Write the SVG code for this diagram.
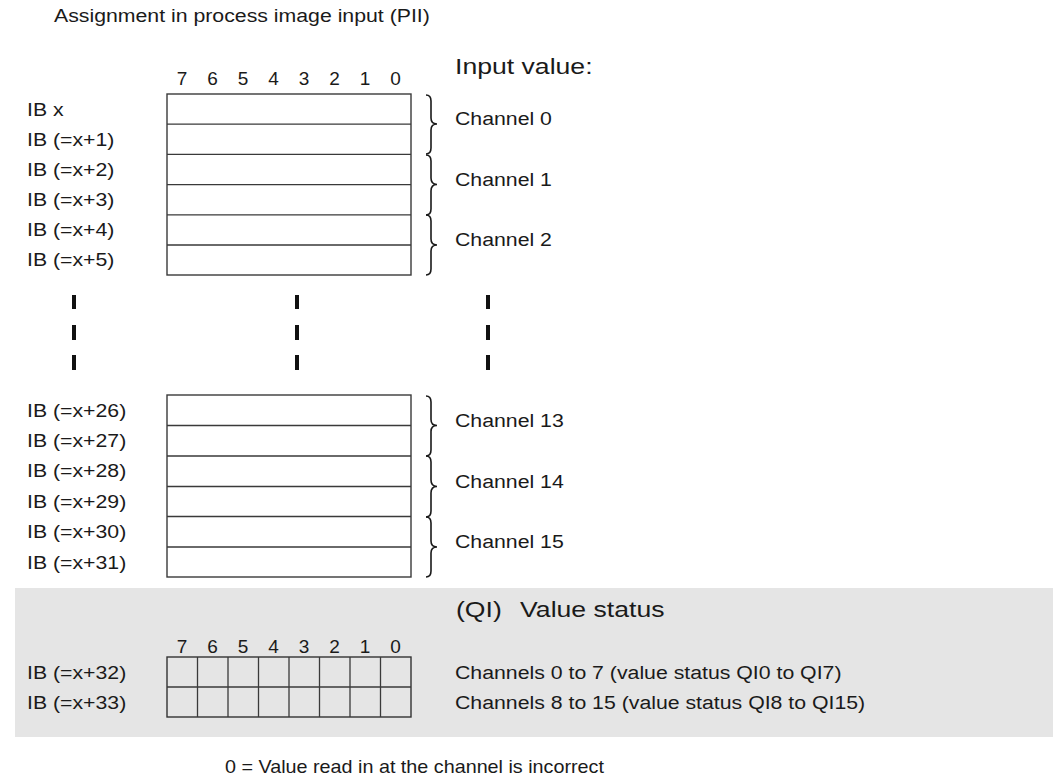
<svg xmlns="http://www.w3.org/2000/svg" width="1053" height="778" viewBox="0 0 1053 778">
<style>
.t{font-family:"Liberation Sans",Arial,sans-serif;font-size:19px;fill:#1a1a1a}
.h{font-size:22px}
.s{transform-box:fill-box;transform-origin:0 0;transform:scaleX(1.12)}
.hs{transform-box:fill-box;transform-origin:0 0;transform:scaleX(1.21)}
.f{transform-box:fill-box;transform-origin:0 0;transform:scaleX(1.04)}
.d{text-anchor:middle}
.box{fill:#fff;stroke:#3a3a3a;stroke-width:1.4}
.ln{stroke:#3a3a3a;stroke-width:1.3;fill:none}
.br{fill:none;stroke:#1a1a1a;stroke-width:1.6}
.dash{fill:#111}
</style>
<rect x="0" y="0" width="1053" height="778" fill="#fff"/>
<text class="t s" x="54" y="22">Assignment in process image input (PII)</text>

<g id="header-top">
<text class="t h hs" x="455" y="74">Input value:</text>
<g class="t d">
<text x="182" y="85">7</text><text x="212.5" y="85">6</text><text x="243" y="85">5</text><text x="273.5" y="85">4</text><text x="304" y="85">3</text><text x="334.5" y="85">2</text><text x="365" y="85">1</text><text x="395.5" y="85">0</text>
</g>
</g>

<g id="table-top">
<rect class="box" x="167" y="94" width="244" height="181"/>
<path class="ln" d="M167 124.2H411M167 154.4H411M167 184.6H411M167 214.8H411M167 245H411"/>
<g class="t">
<text class="s" x="27" y="116">IB x</text>
<text class="s" x="27" y="146">IB (=x+1)</text>
<text class="s" x="27" y="176">IB (=x+2)</text>
<text class="s" x="27" y="206">IB (=x+3)</text>
<text class="s" x="27" y="236">IB (=x+4)</text>
<text class="s" x="27" y="266">IB (=x+5)</text>
</g>
</g>

<g id="channels-top">
<path class="br" d="M426 95Q431 95 431 101L431 118Q431 124 437 124Q431 124 431 130L431 148Q431 154 426 154"/>
<path class="br" d="M426 155Q431 155 431 161L431 178Q431 184.5 437 184.5Q431 184.5 431 191L431 209Q431 215 426 215"/>
<path class="br" d="M426 215Q431 215 431 221L431 239Q431 245 437 245Q431 245 431 251L431 269Q431 275 426 275"/>
<text class="t s" x="455" y="125">Channel 0</text>
<text class="t s" x="455" y="186">Channel 1</text>
<text class="t s" x="455" y="246">Channel 2</text>
</g>

<g id="ellipsis">
<rect class="dash" x="72" y="295" width="4" height="14"/><rect class="dash" x="72" y="325" width="4" height="15"/><rect class="dash" x="72" y="355" width="4" height="15"/>
<rect class="dash" x="295" y="295" width="4" height="14"/><rect class="dash" x="295" y="325" width="4" height="15"/><rect class="dash" x="295" y="355" width="4" height="15"/>
<rect class="dash" x="486" y="295" width="4" height="14"/><rect class="dash" x="486" y="325" width="4" height="15"/><rect class="dash" x="486" y="355" width="4" height="15"/>
</g>

<g id="table-bottom">
<rect class="box" x="167" y="395" width="244" height="182"/>
<path class="ln" d="M167 425.5H411M167 456H411M167 486.5H411M167 516.5H411M167 547H411"/>
<g class="t">
<text class="s" x="27" y="417">IB (=x+26)</text>
<text class="s" x="27" y="447">IB (=x+27)</text>
<text class="s" x="27" y="477">IB (=x+28)</text>
<text class="s" x="27" y="508">IB (=x+29)</text>
<text class="s" x="27" y="538">IB (=x+30)</text>
<text class="s" x="27" y="569">IB (=x+31)</text>
</g>
</g>

<g id="channels-bottom">
<path class="br" d="M426 396Q431 396 431 402L431 419.5Q431 425.5 437 425.5Q431 425.5 431 431.5L431 450Q431 456 426 456"/>
<path class="br" d="M426 456Q431 456 431 462L431 480Q431 486.5 437 486.5Q431 486.5 431 493L431 511Q431 517 426 517"/>
<path class="br" d="M426 517Q431 517 431 523L431 541Q431 547 437 547Q431 547 431 553L431 571Q431 577 426 577"/>
<text class="t s" x="455" y="427">Channel 13</text>
<text class="t s" x="455" y="488">Channel 14</text>
<text class="t s" x="455" y="548">Channel 15</text>
</g>

<g id="status">
<rect x="15" y="588" width="1038" height="149" fill="#e5e5e5"/>
<text class="t h hs" x="456" y="617">(QI)<tspan dx="9"> Value status</tspan></text>
<g class="t d">
<text x="182" y="653">7</text><text x="212.5" y="653">6</text><text x="243" y="653">5</text><text x="273.5" y="653">4</text><text x="304" y="653">3</text><text x="334.5" y="653">2</text><text x="365" y="653">1</text><text x="395.5" y="653">0</text>
</g>
<rect x="167" y="657" width="244" height="60" fill="#e5e5e5" stroke="#333" stroke-width="1.4"/>
<path class="ln" d="M167 687H411M197.5 657V717M228 657V717M258.5 657V717M289 657V717M319.5 657V717M350 657V717M380.5 657V717"/>
<text class="t s" x="27" y="679">IB (=x+32)</text>
<text class="t s" x="27" y="709">IB (=x+33)</text>
<text class="t s" x="455" y="679">Channels 0 to 7 (value status QI0 to QI7)</text>
<text class="t s" x="455" y="709">Channels 8 to 15 (value status QI8 to QI15)</text>
</g>

<text id="footer" class="t f" x="225" y="773">0 = Value read in at the channel is incorrect</text>
</svg>
